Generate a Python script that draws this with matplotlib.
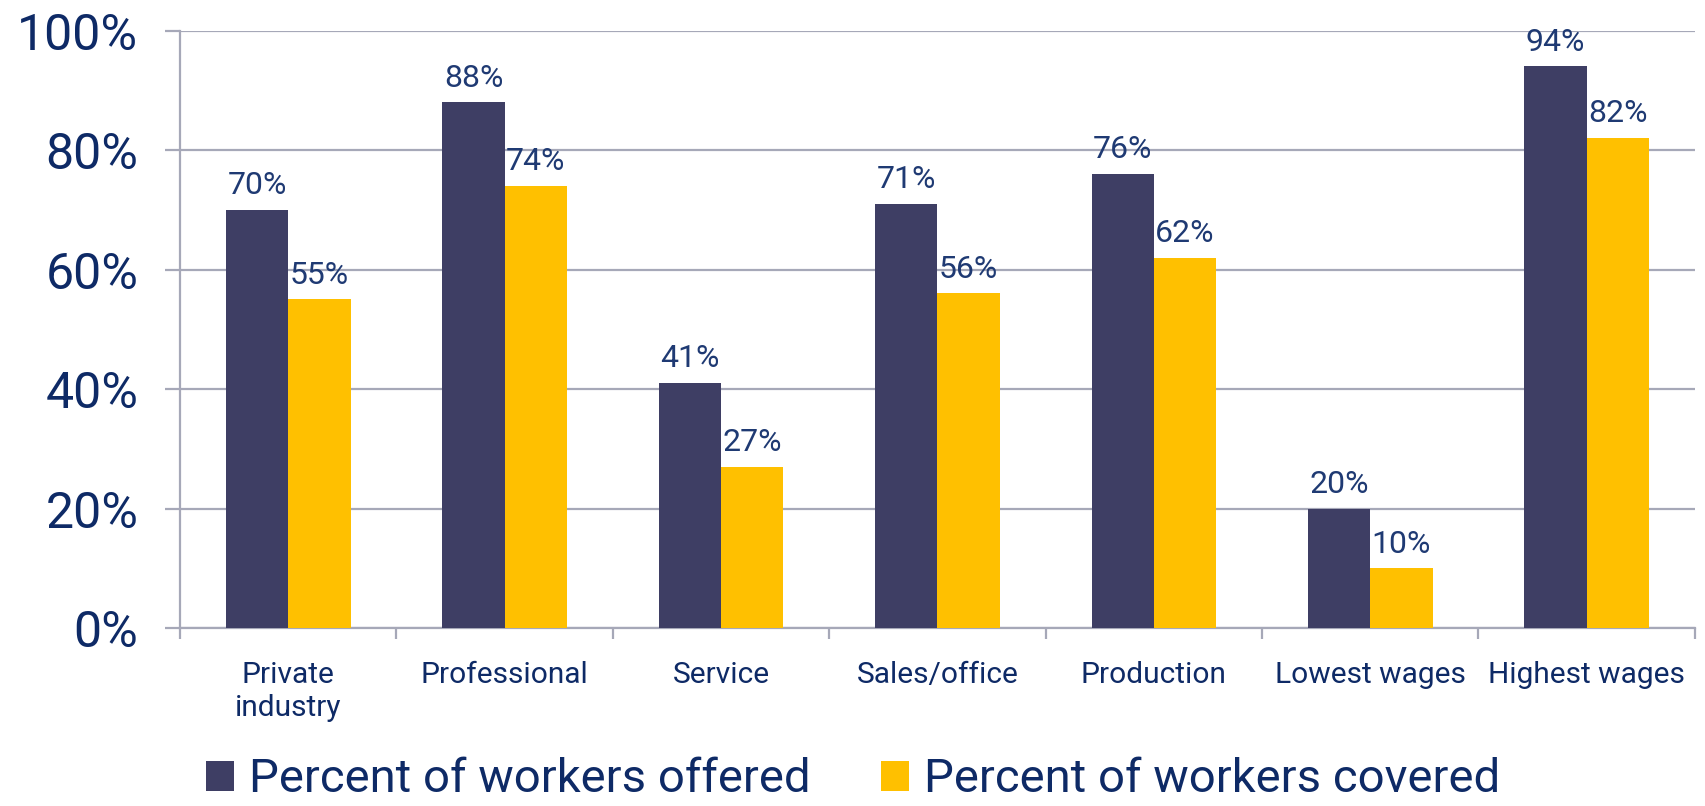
import matplotlib
matplotlib.use("Agg")
import matplotlib.pyplot as plt
import numpy as np

categories = ["Private\nindustry", "Professional", "Service", "Sales/office",
              "Production", "Lowest wages", "Highest wages"]
offered = [70, 88, 41, 71, 76, 20, 94]
covered = [55, 74, 27, 56, 62, 10, 82]
series_names = ["Percent of workers offered", "Percent of workers covered"]

dark = "#3E3E64"
gold = "#FFC000"
navy = "#0E2A66"
label_col = "#1F3A73"
grid_col = "#A6A8B8"

plt.rcParams["font.family"] = ["Roboto", "DejaVu Sans"]

fig = plt.figure(figsize=(17.06, 8.06), dpi=100)
ax = fig.add_axes([0.1055, 0.2208, 0.888, 0.7412])

x = np.arange(len(categories))
w = 0.288
b1 = ax.bar(x - w / 2, offered, w, color=dark, label=series_names[0], zorder=3)
b2 = ax.bar(x + w / 2, covered, w, color=gold, label=series_names[1], zorder=3)

# value labels above bars
for bars, vals in ((b1, offered), (b2, covered)):
    for r, v in zip(bars, vals):
        ax.annotate(f"{v}%", (r.get_x() + r.get_width() / 2, v),
                    xytext=(0, 7), textcoords="offset points",
                    ha="center", va="bottom", fontsize=23, color=label_col,
                    zorder=4)

ax.set_ylim(0, 100)
ax.set_xlim(-0.5, len(categories) - 0.5)
ax.set_yticks(range(0, 101, 20))
ax.set_yticklabels([f"{t}%" for t in range(0, 101, 20)])
ax.yaxis.grid(True, color=grid_col, lw=1.6, zorder=0)
ax.tick_params(axis="y", length=11, width=1.6, color=grid_col,
               labelsize=36, labelcolor=navy, pad=19)

ax.set_xticks(x)
ax.set_xticklabels(categories, linespacing=1.2)
ax.set_xticks(np.arange(-0.5, len(categories), 1), minor=True)
ax.tick_params(axis="x", which="major", length=0, labelsize=21.5,
               labelcolor=navy, pad=24)
ax.tick_params(axis="x", which="minor", length=8, width=1.6, color=grid_col)

for s in ("top", "right"):
    ax.spines[s].set_visible(False)
for s in ("left", "bottom"):
    ax.spines[s].set_color(grid_col)
    ax.spines[s].set_linewidth(1.6)

leg = fig.legend(handles=[b1, b2], loc="center", bbox_to_anchor=(0.5, 0.033),
                 ncol=2, frameon=False, fontsize=34, handlelength=0.6,
                 handleheight=0.6, handletextpad=0.3, columnspacing=1.5)
for t in leg.get_texts():
    t.set_color(navy)

fig.savefig("out.png", dpi=100)
